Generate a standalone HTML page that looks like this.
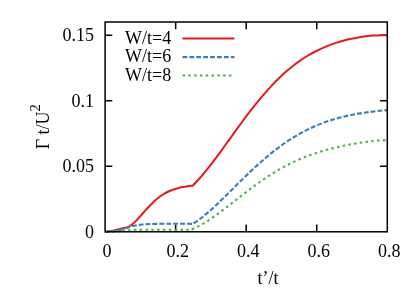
<!DOCTYPE html>
<html><head><meta charset="utf-8"><title>chart</title>
<style>
html,body{margin:0;padding:0;background:#fff;}
body{width:415px;height:291px;overflow:hidden;}
svg{display:block;will-change:transform;}
text{font-family:"Liberation Serif",serif;font-size:18px;fill:#000;}
</style></head><body>
<svg width="415" height="291" viewBox="0 0 415 291">
<rect width="415" height="291" fill="#fff"/>
<path d="M175.65 231.80v-7.20M175.65 22.00v7.20M246.20 231.80v-7.20M246.20 22.00v7.20M316.75 231.80v-7.20M316.75 22.00v7.20M105.10 166.27h7.20M387.30 166.27h-7.20M105.10 100.73h7.20M387.30 100.73h-7.20M105.10 35.20h7.20M387.30 35.20h-7.20" fill="none" stroke="#000" stroke-width="1.5"/>
<g fill="none" stroke-linejoin="round">
<path d="M105.10 231.80C106.05 231.68 109.03 231.42 110.80 231.10C112.57 230.78 113.88 230.33 115.70 229.90C117.52 229.47 119.60 229.00 121.70 228.50C123.80 228.00 127.20 227.17 128.30 226.90C129.13 226.32 131.60 224.85 133.25 223.45C134.91 222.05 136.56 220.26 138.21 218.52C139.86 216.78 141.51 214.83 143.16 212.99C144.81 211.15 146.46 209.25 148.12 207.49C149.77 205.73 151.42 204.01 153.07 202.44C154.72 200.87 156.37 199.41 158.02 198.09C159.67 196.77 161.33 195.59 162.98 194.53C164.63 193.48 166.28 192.57 167.93 191.76C169.58 190.95 171.23 190.29 172.88 189.69C174.54 189.09 176.19 188.61 177.84 188.18C179.49 187.74 181.14 187.40 182.79 187.08C184.44 186.76 186.09 186.51 187.75 186.28C189.40 186.05 191.87 185.80 192.70 185.70C193.90 184.42 197.50 180.74 199.91 178.01C202.31 175.29 204.71 172.37 207.11 169.38C209.52 166.38 211.92 163.23 214.32 160.05C216.72 156.87 219.13 153.58 221.53 150.29C223.93 147.00 226.33 143.64 228.74 140.32C231.14 136.99 233.54 133.63 235.94 130.32C238.35 127.02 240.75 123.72 243.15 120.49C245.55 117.26 247.96 114.07 250.36 110.96C252.76 107.86 255.16 104.81 257.57 101.87C259.97 98.92 262.37 96.05 264.77 93.30C267.18 90.54 269.58 87.87 271.98 85.33C274.38 82.78 276.79 80.33 279.19 78.01C281.59 75.68 283.99 73.47 286.40 71.37C288.80 69.27 291.20 67.29 293.60 65.42C296.01 63.54 298.41 61.79 300.81 60.14C303.21 58.49 305.62 56.95 308.02 55.51C310.42 54.07 312.82 52.74 315.23 51.50C317.63 50.26 320.03 49.12 322.43 48.05C324.84 46.99 327.24 46.02 329.64 45.12C332.04 44.21 334.45 43.40 336.85 42.64C339.25 41.88 341.65 41.19 344.06 40.56C346.46 39.93 348.86 39.36 351.26 38.84C353.67 38.32 356.07 37.86 358.47 37.45C360.87 37.03 363.28 36.67 365.68 36.36C368.08 36.06 370.48 35.79 372.89 35.60C375.29 35.40 377.69 35.25 380.09 35.18C382.50 35.12 386.10 35.20 387.30 35.20" stroke="#e41a1c" stroke-width="2"/>
<path d="M105.10 231.80C106.25 231.73 109.60 231.68 112.00 231.40C114.40 231.12 117.33 230.57 119.50 230.10C121.67 229.63 123.25 229.15 125.00 228.60C126.75 228.05 128.03 227.37 130.00 226.80C131.97 226.23 134.77 225.58 136.80 225.20C138.83 224.82 140.00 224.70 142.20 224.50C144.40 224.30 144.98 224.13 150.00 224.00C155.02 223.87 165.17 223.72 172.30 223.70C179.43 223.68 189.38 223.87 192.80 223.90C194.00 223.08 197.60 220.76 200.00 218.98C202.40 217.19 204.81 215.21 207.21 213.17C209.61 211.12 212.01 208.94 214.41 206.72C216.81 204.51 219.21 202.19 221.61 199.86C224.02 197.54 226.42 195.15 228.82 192.77C231.22 190.39 233.62 187.98 236.02 185.60C238.42 183.23 240.82 180.84 243.23 178.50C245.63 176.16 248.03 173.83 250.43 171.56C252.83 169.30 255.23 167.06 257.63 164.89C260.03 162.72 262.44 160.59 264.84 158.54C267.24 156.49 269.64 154.49 272.04 152.58C274.44 150.66 276.84 148.80 279.24 147.03C281.65 145.25 284.05 143.55 286.45 141.92C288.85 140.30 291.25 138.75 293.65 137.27C296.05 135.80 298.45 134.40 300.86 133.07C303.26 131.75 305.66 130.50 308.06 129.32C310.46 128.14 312.86 127.04 315.26 126.00C317.66 124.96 320.07 124.00 322.47 123.09C324.87 122.19 327.27 121.35 329.67 120.56C332.07 119.78 334.47 119.06 336.87 118.39C339.28 117.72 341.68 117.11 344.08 116.53C346.48 115.96 348.88 115.45 351.28 114.96C353.68 114.48 356.08 114.05 358.49 113.64C360.89 113.23 363.29 112.87 365.69 112.53C368.09 112.19 370.49 111.88 372.89 111.59C375.29 111.30 377.70 111.04 380.10 110.79C382.50 110.54 386.10 110.22 387.30 110.10" stroke="#377eb8" stroke-width="2.1" stroke-dasharray="4.8 2.1"/>
<path d="M105.10 231.80C107.58 231.63 114.85 231.13 120.00 230.80C125.15 230.47 129.33 229.97 136.00 229.80C142.67 229.63 150.87 229.80 160.00 229.80C169.13 229.80 185.67 229.80 190.80 229.80C192.01 229.24 195.65 227.69 198.08 226.44C200.50 225.19 202.93 223.78 205.36 222.29C207.78 220.80 210.21 219.19 212.63 217.52C215.06 215.86 217.49 214.10 219.91 212.31C222.34 210.53 224.76 208.67 227.19 206.81C229.61 204.96 232.04 203.05 234.47 201.17C236.89 199.28 239.32 197.37 241.74 195.50C244.17 193.63 246.60 191.75 249.02 189.93C251.45 188.10 253.87 186.29 256.30 184.54C258.73 182.78 261.15 181.06 263.58 179.41C266.00 177.75 268.43 176.14 270.86 174.59C273.28 173.05 275.71 171.56 278.13 170.14C280.56 168.72 282.99 167.36 285.41 166.07C287.84 164.78 290.26 163.55 292.69 162.39C295.11 161.22 297.54 160.12 299.97 159.08C302.39 158.04 304.82 157.07 307.24 156.15C309.67 155.22 312.10 154.36 314.52 153.55C316.95 152.73 319.37 151.97 321.80 151.25C324.23 150.53 326.65 149.85 329.08 149.21C331.50 148.57 333.93 147.98 336.36 147.41C338.78 146.84 341.21 146.30 343.63 145.79C346.06 145.29 348.49 144.81 350.91 144.35C353.34 143.90 355.76 143.47 358.19 143.07C360.61 142.68 363.04 142.30 365.47 141.97C367.89 141.63 370.32 141.32 372.74 141.07C375.17 140.82 377.60 140.59 380.02 140.44C382.45 140.30 386.09 140.24 387.30 140.20" stroke="#4daf4a" stroke-width="2.1" stroke-dasharray="2.5 3.3"/>
<path d="M182.4 38.5H234.4" stroke="#e41a1c" stroke-width="2"/>
<path d="M182.5 57.1H234.4" stroke="#377eb8" stroke-width="2.1" stroke-dasharray="4.8 2.1"/>
<path d="M182.5 75.5H234.4" stroke="#4daf4a" stroke-width="2.1" stroke-dasharray="2.5 3.3"/>
</g>
<rect x="105.1" y="22.0" width="282.20" height="209.80" fill="none" stroke="#000" stroke-width="1.5"/>
<text x="107.10" y="256.6" text-anchor="middle">0</text><text x="177.65" y="256.6" text-anchor="middle">0.2</text><text x="248.20" y="256.6" text-anchor="middle">0.4</text><text x="318.75" y="256.6" text-anchor="middle">0.6</text><text x="389.30" y="256.6" text-anchor="middle">0.8</text>
<text x="94.0" y="238.00" text-anchor="end">0</text><text x="94.0" y="172.47" text-anchor="end">0.05</text><text x="94.0" y="106.93" text-anchor="end">0.1</text><text x="94.0" y="41.40" text-anchor="end">0.15</text>
<text x="125" y="43.9">W/t=4</text>
<text x="125" y="62.4">W/t=6</text>
<text x="125" y="80.9">W/t=8</text>
<text x="268.0" y="283.5" text-anchor="middle">t’/t</text>
<text transform="translate(49.1 149.3) rotate(-90)">Γ t/U<tspan font-size="14.4" dy="-9.2">2</tspan></text>
</svg>
</body></html>
